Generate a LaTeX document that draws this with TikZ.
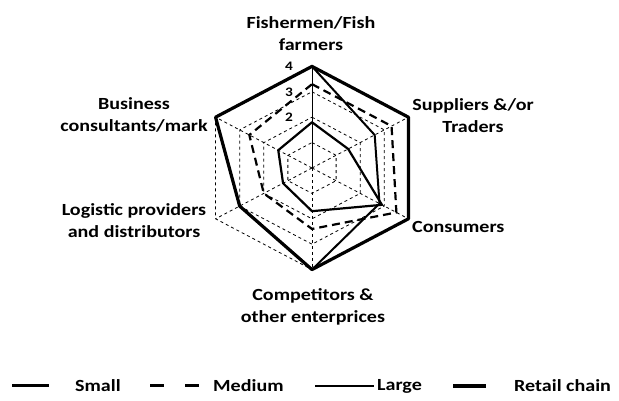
\documentclass[tikz,border=0pt]{standalone}
\usepackage{fontspec}
\newfontfamily\lab{Carlito}[FakeStretch=1.18]
\begin{document}
\begin{tikzpicture}[x=1pt,y=1pt,
  lbl/.style={font=\lab\bfseries\fontsize{17}{22}\selectfont, align=center, inner sep=0pt},
  tick/.style={font=\lab\bfseries\fontsize{13}{13}\selectfont, inner sep=0pt, anchor=east},
  gridline/.style={line width=0.8pt, dash pattern=on 3pt off 3pt},
  axisline/.style={line width=1pt},
  smallser/.style={line width=2.2pt, line join=round},
  mediumser/.style={line width=2.2pt, dash pattern=on 8pt off 5pt},
  largeser/.style={line width=2pt, line join=round},
  retailser/.style={line width=3.2pt, line join=round}]
\useasboundingbox (0,0) rectangle (619,401);
\fill[white] (0,0) rectangle (619,401);
\coordinate (C) at (312,233);
% grid points
\begin{scope}[shift={(C)}, xscale=1.096]
  \foreach \a [count=\k from 0] in {90,30,-30,-90,210,150}{
    \foreach \v in {1,2,3,4}{\coordinate (g\v-\k) at (\a:\v*25.4);}
  }
  % series
  \foreach \a/\v [count=\k from 0] in {90/1.8,30/1.5,-30/2.9,-90/1.7,210/1.2,150/1.4}
    {\coordinate (S-\k) at (\a:\v*25.4);}
  \foreach \a/\v [count=\k from 0] in {90/3.3,30/3.3,-30/3.5,-90/2.4,210/2,150/2.6}
    {\coordinate (M-\k) at (\a:\v*25.4);}
  \foreach \a/\v [count=\k from 0] in {90/4,30/2.6,-30/2.8,-90/4,210/3,150/4}
    {\coordinate (L-\k) at (\a:\v*25.4);}
  \foreach \a/\v [count=\k from 0] in {90/4,30/4,-30/4,-90/4,210/3,150/4}
    {\coordinate (R-\k) at (\a:\v*25.4);}
\end{scope}
% grid hexagons
\foreach \v in {1,2,3,4}
  \draw[gridline] (g\v-0)--(g\v-1)--(g\v-2)--(g\v-3)--(g\v-4)--(g\v-5)--cycle;
\foreach \k in {1,...,5} \draw[gridline] (C)--(g4-\k);
\draw[axisline] (C)--(g4-0);
% tick labels
\node[tick] (t4) at ([xshift=-19pt]g4-0) {4};
\node[tick] (t3) at ([xshift=-19pt]g3-0) {3};
\node[tick] (t2) at ([xshift=-19pt]g2-0) {2};
% series
\draw[smallser] (S-0)--(S-1)--(S-2)--(S-3)--(S-4)--(S-5)--cycle;
\draw[mediumser] (M-0)--(M-1)--(M-2)--(M-3)--(M-4)--(M-5)--cycle;
\draw[largeser] (L-0)--(L-1)--(L-2)--(L-3)--(L-4)--(L-5)--cycle;
\draw[retailser] (R-0)--(R-1)--(R-2)--(R-3)--(R-4)--(R-5)--cycle;
% category labels
\node[lbl] (fish) at (311,367) {Fishermen/Fish\\farmers};
\node[lbl] (sup) at (473,285) {Suppliers \&/or\\Traders};
\node[lbl, anchor=west] (cons) at (412,174) {Consumers};
\node[lbl] (comp) at (313,94) {Competitors \&\\other enterprices};
\node[lbl] (log) at (134,180) {Logistic providers\\and distributors};
\node[lbl] (bus) at (134,286) {Business\\consultants/mark};
% legend
\coordinate (ls1) at (12,15); \coordinate (ls2) at (49,15);
\coordinate (lm1) at (150,15); \coordinate (lm2) at (202,15);
\coordinate (ll1) at (315,15); \coordinate (ll2) at (374,15);
\coordinate (lr1) at (453,15); \coordinate (lr2) at (486,15);
\draw[smallser, line width=3pt] (ls1)--(ls2);
\draw[mediumser, line width=3pt, dash pattern=on 14pt off 21pt] (lm1)--(lm2);
\draw[largeser, line width=2.4pt] (ll1)--(ll2);
\draw[retailser] (lr1)--(lr2);
\node[lbl, anchor=west] (lgs) at (75,15) {Small};
\node[lbl, anchor=west] (lgm) at (213,15) {Medium};
\node[lbl, anchor=west] (lgl) at (377,15) {Large};
\node[lbl, anchor=west] (lgr) at (514,15) {Retail chain};
\end{tikzpicture}
\end{document}
